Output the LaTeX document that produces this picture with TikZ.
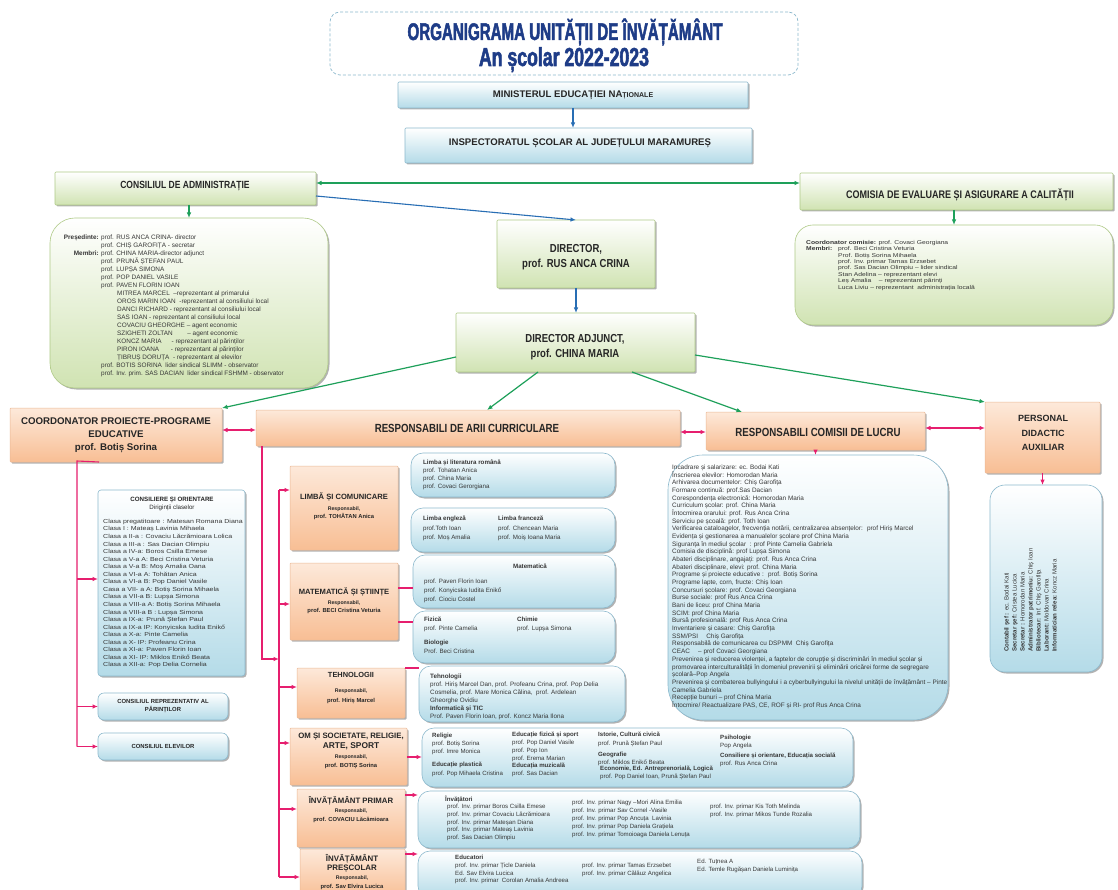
\documentclass[tikz,border=0pt]{standalone}
\usepackage{fontspec}
\setmainfont{Liberation Sans}
\newfontfamily\narrowf[FakeStretch=0.82]{Liberation Sans}
\newfontfamily\widef[FakeStretch=1.2]{Liberation Sans}
\newfontfamily\titlef[FakeStretch=0.63,FakeBold=2]{Liberation Sans}
\newfontfamily\titlefb[FakeStretch=0.68,FakeBold=2]{Liberation Sans}
\usetikzlibrary{arrows.meta,shadows}
\definecolor{bluB}{RGB}{140,185,205}
\definecolor{bluF}{RGB}{180,219,232}
\definecolor{grnB}{RGB}{175,202,135}
\definecolor{grnF}{RGB}{208,227,178}
\definecolor{orgB}{RGB}{235,185,150}
\definecolor{orgF}{RGB}{248,190,148}
\definecolor{orgT}{RGB}{253,233,218}
\definecolor{arG}{RGB}{30,160,90}
\definecolor{arB}{RGB}{40,110,180}
\definecolor{arP}{RGB}{230,30,110}
\definecolor{ttl}{RGB}{30,60,135}
\definecolor{txt}{RGB}{55,55,55}
\newcommand\mkbox[6]{\node[#6, inner sep=0pt, outer sep=0pt, anchor=north west, minimum width={(#4-#2)*1pt}, minimum height={(#5-#3)*1pt}] (#1) at (#2,-#3) {};}
\tikzset{
 shad/.style={drop shadow={shadow xshift=1.5pt,shadow yshift=-1.5pt,opacity=0.3,fill=black}},
 bbox/.style={draw=bluB, line width=0.6pt, top color=white, bottom color=bluF, shad},
 gbox/.style={draw=grnB, line width=0.6pt, top color=white, bottom color=grnF, shad},
 obox/.style={draw=orgB, line width=0.5pt, top color=orgT, bottom color=orgF, shad},
 hd/.style={text=black!85, inner sep=0pt, align=center},
 tx/.style={text=txt, inner sep=0pt, align=left, anchor=north west},
 tip/.style={-{Latex[length=5.5pt,width=4.5pt]}},
 ga/.style={draw=arG, line width=1.2pt, tip},
 gda/.style={draw=arG, line width=1.2pt, {Latex[length=5.5pt,width=4.5pt]}-{Latex[length=5.5pt,width=4.5pt]}},
 ba/.style={draw=arB, line width=1.1pt, tip},
 pa/.style={draw=arP, line width=1.1pt, tip},
 pda/.style={draw=arP, line width=1.2pt, {Latex[length=5.5pt,width=4.5pt]}-{Latex[length=5.5pt,width=4.5pt]}},
 pl/.style={draw=arP, line width=1.1pt},
}
\begin{document}
\begin{tikzpicture}[x=1pt,y=1pt]
\useasboundingbox (0,0) rectangle (1118,-890);
\fill[white] (0,0) rectangle (1118,-890);

% ---------- boxes ----------
\mkbox{Ttl}{330}{12}{798}{75}{draw=bluB, dash pattern=on 3pt off 2pt, line width=0.7pt, rounded corners=10pt}
\mkbox{Min}{398}{82}{748}{108}{bbox, rounded corners=1pt}
\mkbox{Insp}{405}{128}{752}{163}{bbox, rounded corners=1pt}
\mkbox{CA}{55}{172}{316}{205}{gbox, rounded corners=1pt}
\mkbox{caC}{50}{218}{328}{388}{gbox, rounded corners=25pt}
\mkbox{Com}{800}{173}{1113}{210}{gbox, rounded corners=1pt}
\mkbox{comC}{795}{225}{1113}{325}{gbox, rounded corners=18pt}
\mkbox{Dir}{497}{220}{655}{288}{gbox, rounded corners=1pt}
\mkbox{DA}{456}{313}{695}{372}{gbox, rounded corners=1pt}
\mkbox{Coord}{10}{408}{222}{462}{obox, rounded corners=1pt}
\mkbox{ARII}{256}{410}{680}{446}{obox, rounded corners=1pt}
\mkbox{RC}{706}{412}{925}{450}{obox, rounded corners=1pt}
\mkbox{Pers}{985}{402}{1100}{473}{obox, rounded corners=1pt}
\mkbox{CL}{668}{455}{948}{720}{bbox, rounded corners=35pt}
\mkbox{Aux}{990}{485}{1102}{672}{bbox, rounded corners=15pt}
\mkbox{Cons}{98}{490}{245}{676}{bbox, rounded corners=3pt}
\mkbox{Rep}{98}{693}{228}{720}{bbox, rounded corners=6pt}
\mkbox{Elev}{98}{733}{228}{760}{bbox, rounded corners=6pt}
\mkbox{Lim}{290}{466}{398}{550}{obox, rounded corners=1pt}
\mkbox{Mat}{290}{563}{398}{640}{obox, rounded corners=1pt}
\mkbox{Teh}{297}{668}{405}{718}{obox, rounded corners=1pt}
\mkbox{Om}{290}{728}{407}{785}{obox, rounded corners=1pt}
\mkbox{Prim}{297}{789}{405}{847}{obox, rounded corners=1pt}
\mkbox{Pres}{300}{849}{405}{898}{obox, rounded corners=1pt}
\mkbox{limA}{411}{453}{615}{497}{bbox, rounded corners=12pt}
\mkbox{limB}{411}{508}{615}{552}{bbox, rounded corners=12pt}
\mkbox{matB}{413}{555}{615}{608}{bbox, rounded corners=12pt}
\mkbox{fizB}{413}{611}{615}{663}{bbox, rounded corners=12pt}
\mkbox{tehB}{419}{666}{625}{722}{bbox, rounded corners=12pt}
\mkbox{omB}{422}{728}{853}{787}{bbox, rounded corners=12pt}
\mkbox{primB}{418}{791}{860}{848}{bbox, rounded corners=12pt}
\mkbox{presB}{418}{851}{862}{898}{bbox, rounded corners=12pt}

% ---------- title ----------
\node[inner sep=0pt, text=ttl, anchor=base, font=\titlef\bfseries\fontsize{24}{26}\selectfont] (T1) at (565,-40) {ORGANIGRAMA UNITĂȚII DE ÎNVĂȚĂMÂNT};
\node[inner sep=0pt, text=ttl, anchor=base, font=\titlefb\bfseries\fontsize{26}{28}\selectfont] (T2) at (564,-66) {An școlar 2022-2023};

% ---------- header texts ----------
\node[hd, font=\bfseries\fontsize{9.6}{10}\selectfont] (MinT) at (573,-95) {MINISTERUL EDUCAȚIEI NA{\fontsize{7}{7}\selectfont ȚIONALE}};
\node[hd, font=\bfseries\fontsize{9.6}{10}\selectfont] (InspT) at (580,-143) {INSPECTORATUL ȘCOLAR AL JUDEȚULUI MARAMUREȘ};
\node[hd, font=\narrowf\bfseries\fontsize{10.4}{11}\selectfont] (CAT) at (185,-186) {CONSILIUL DE ADMINISTRAȚIE};
\node[hd, font=\narrowf\bfseries\fontsize{11}{12}\selectfont] (ComT) at (960,-195) {COMISIA DE EVALUARE ȘI ASIGURARE A CALITĂȚII};
\node[hd, font=\narrowf\bfseries\fontsize{11.6}{15.5}\selectfont] (DirT) at (576,-257) {DIRECTOR,\\prof. RUS ANCA CRINA};
\node[hd, font=\narrowf\bfseries\fontsize{11.6}{15.5}\selectfont] (DAT) at (575,-347) {DIRECTOR ADJUNCT,\\prof. CHINA MARIA};
\node[hd, font=\bfseries\fontsize{9.7}{13}\selectfont] (CoordT) at (116,-435) {COORDONATOR PROIECTE-PROGRAME\\EDUCATIVE\\prof. Botiș Sorina};
\node[hd, font=\narrowf\bfseries\fontsize{11.8}{12}\selectfont] (ARIIT) at (467,-428) {RESPONSABILI DE ARII CURRICULARE};
\node[hd, font=\narrowf\bfseries\fontsize{11.8}{12}\selectfont] (RCT) at (818,-432) {RESPONSABILI COMISII DE LUCRU};
\node[hd, font=\bfseries\fontsize{9}{14.5}\selectfont] (PersT) at (1043,-433) {PERSONAL\\DIDACTIC\\AUXILIAR};

% ---------- orange sub-box texts ----------
\node[hd, anchor=north, font=\bfseries\fontsize{5.2}{8.5}\selectfont] (LimT) at (344,-493) {{\fontsize{7.6}{8}\selectfont LIMBĂ ȘI COMUNICARE}\\[2pt]Responsabil,\\{\fontsize{5.8}{8}\selectfont prof. TOHĂTAN Anica}};
\node[hd, anchor=north, font=\bfseries\fontsize{5.2}{8.5}\selectfont] (MatT) at (344,-588) {{\fontsize{7.6}{8}\selectfont MATEMATICĂ ȘI ȘTIINȚE}\\[1pt]Responsabil,\\{\fontsize{5.8}{8}\selectfont prof. BECI Cristina Veturia}};
\node[hd, anchor=north, font=\bfseries\fontsize{5.2}{9.5}\selectfont] (TehT) at (351,-672) {{\fontsize{7.4}{8}\selectfont TEHNOLOGII}\\[6pt]Responsabil,\\{\fontsize{5.8}{8}\selectfont prof. Hiriș Marcel}};
\node[hd, anchor=north, font=\bfseries\fontsize{5.2}{10}\selectfont] (OmT) at (351,-733) {{\fontsize{7.8}{8}\selectfont OM ȘI SOCIETATE, RELIGIE,}\\{\fontsize{8.4}{8}\selectfont ARTE, SPORT}\\Responsabil,\\[-1pt]{\fontsize{5.8}{8}\selectfont prof. BOTIȘ Sorina}};
\node[hd, anchor=north, font=\bfseries\fontsize{5.2}{9}\selectfont] (PrimT) at (351,-796) {{\fontsize{7.8}{8}\selectfont ÎNVĂȚĂMÂNT PRIMAR}\\Responsabil,\\{\fontsize{5.8}{8}\selectfont prof. COVACIU Lăcămioara}};
\node[hd, anchor=north, font=\bfseries\fontsize{5.2}{9.3}\selectfont] (PresT) at (352,-854) {{\fontsize{7.9}{8}\selectfont ÎNVĂȚĂMÂNT}\\{\fontsize{7.9}{8}\selectfont PREȘCOLAR}\\Responsabil,\\[-1pt]{\fontsize{5.8}{8}\selectfont prof. Sav Elvira Lucica}};

% ---------- consiliul de administratie content ----------
\node[tx, anchor=north east, align=right, font=\bfseries\fontsize{6.4}{8}\selectfont] (caL) at (99,-235) {Președinte:\\[8pt]Membri:};
\node[tx, font=\fontsize{6.4}{8}\selectfont] (caT) at (101,-235) {prof. RUS ANCA CRINA- director\\
prof. CHIȘ GAROFIȚA - secretar\\
prof. CHINA MARIA-director adjunct\\
prof. PRUNĂ ȘTEFAN PAUL\\
prof. LUPȘA SIMONA\\
prof. POP DANIEL VASILE\\
prof. PAVEN FLORIN IOAN\\
\hspace*{16pt}MITREA MARCEL \ –reprezentant al primarului\\
\hspace*{16pt}OROS MARIN IOAN \ -reprezentant al consiliului local\\
\hspace*{16pt}DANCI RICHARD - reprezentant al consiliului local\\
\hspace*{16pt}SAS IOAN - reprezentant al consiliului local\\
\hspace*{16pt}COVACIU GHEORGHE – agent economic\\
\hspace*{16pt}SZIGHETI ZOLTAN \qquad – agent economic\\
\hspace*{16pt}KONCZ MARIA \quad\ - reprezentant al părinților\\
\hspace*{16pt}PIRON IOANA \quad\ \ - reprezentant al părinților\\
\hspace*{16pt}ȚIBRUȘ DORUȚA \ - reprezentant al elevilor\\
prof. BOTIS SORINA \ lider sindical SLIMM - observator\\
prof. Inv. prim. SAS DACIAN \ lider sindical FSHMM - observator};

% ---------- comisia content ----------
\node[tx, font=\widef\fontsize{5.6}{6.4}\selectfont] (comT1) at (806,-240) {\textbf{Coordonator comisie:} prof. Covaci Georgiana\\\textbf{Membri:}};
\node[tx, font=\widef\fontsize{5.6}{6.4}\selectfont] (comT2) at (838,-246.4) {prof. Beci Cristina Veturia\\Prof. Botiș Sorina Mihaela\\prof. Inv. primar Tamas Erzsebet\\prof. Sas Dacian Olimpiu – lider sindical\\Stan Adelina – reprezentant elevi\\Leș Amalia \quad – reprezentant părinți\\Luca Liviu – reprezentant \ administrația locală};

% ---------- consiliere ----------
\node[hd, anchor=north, font=\fontsize{6.2}{8}\selectfont] (consH) at (172,-497) {\textbf{CONSILIERE ȘI ORIENTARE}\\Diriginții claselor};
\node[tx, font=\widef\fontsize{5.85}{7.55}\selectfont] (consT) at (103,-519) {Clasa pregatitoare : Matesan Romana Diana\\
Clasa I : Mateaș Lavinia Mihaela\\
Clasa a II-a : Covaciu Lăcrămioara Lolica\\
Clasa a III-a : Sas Dacian Olimpiu\\
Clasa a IV-a: Boros Csilla Emese\\
Clasa a V-a A: Beci Cristina Veturia\\
Clasa a V-a B: Moș Amalia Oana\\
Clasa a VI-a A: Tohătan Anica\\
Clasa a VI-a B: Pop Daniel Vasile\\
Casa a VII- a A: Botiș Sorina Mihaela\\
Clasa a VII-a B: Lupșa Simona\\
Clasa a VIII-a A: Botiș Sorina Mihaela\\
Clasa a VIII-a B : Lupșa Simona\\
Clasa a IX-a: Prună Ștefan Paul\\
Clasa a IX-a IP: Konyicska Iudita Enikő\\
Clasa a X-a: Pinte Camelia\\
Clasa a X- IP: Profeanu Crina\\
Clasa a XI-a: Paven Florin Ioan\\
Clasa a XI- IP: Miklos Enikő Beata\\
Clasa a XII-a: Pop Delia Cornelia};
\node[hd, font=\bfseries\fontsize{5.9}{8}\selectfont] (RepT) at (163,-706) {CONSILIUL REPREZENTATIV AL\\PĂRINȚILOR};
\node[hd, font=\bfseries\fontsize{5.9}{8}\selectfont] (ElevT) at (163,-746) {CONSILIUL ELEVILOR};

% ---------- comisii de lucru list ----------
\node[tx, font=\fontsize{6.4}{7.68}\selectfont] (clT) at (672,-464.5) {Incadrare și salarizare: ec. Bodai Kati\\
Înscrierea elevilor: Homorodan Maria\\
Arhivarea documentelor: Chiș Garofița\\
Formare continuă: prof.Sas Dacian\\
Corespondența electronică: Homorodan Maria\\
Curriculum școlar: prof. China Maria\\
Întocmirea orarului: prof. Rus Anca Crina\\
Serviciu pe școală: prof. Toth Ioan\\
Verificarea cataloagelor, frecvenția notării, centralizarea absențelor: \ prof Hiriș Marcel\\
Evidența și gestionarea a manualelor școlare prof China Maria\\
Siguranța în mediul școlar \ : prof Pinte Camelia Gabriela\\
Comisia de disciplină: prof Lupșa Simona\\
Abateri disciplinare, angajați: prof. Rus Anca Crina\\
Abateri disciplinare, elevi: prof. China Maria\\
Programe și proiecte educative : \ prof. Botiș Sorina\\
Programe lapte, corn, fructe: Chiș Ioan\\
Concursuri școlare: prof. Covaci Georgiana\\
Burse sociale: prof Rus Anca Crina\\
Bani de liceu: prof China Maria\\
SCIM: prof China Maria\\
Bursă profesională: prof Rus Anca Crina\\
Inventariere și casare: Chiș Garofița\\
SSM/PSI \quad Chiș Garofița\\
Responsabilă de comunicarea cu DSPMM \ Chiș Garofița\\
CEAC \quad – prof Covaci Georgiana\\
Prevenirea și reducerea violenței, a faptelor de corupție și discriminări în mediul școlar și\\
promovarea interculturalității în domeniul prevenirii și eliminării oricărei forme de segregare\\
școlară–Pop Angela\\
Prevenirea și combaterea bullyingului i a cyberbullyingului la nivelul unității de învățământ – Pinte\\
Camelia Gabriela\\
Recepție bunuri – prof China Maria\\
Întocmire/ Reactualizare PAS, CE, ROF și RI- prof Rus Anca Crina};

% ---------- personal auxiliar ----------
\node[tx, rotate=90, font=\fontsize{6.1}{8}\selectfont] (auxT) at (1004,-652) {\textbf{Contabil șef :} ec. Bodai Kati\\\textbf{Secretar șef:} Cristea Lucica\\\textbf{Secretar :} Homorodan Maria\\\textbf{Administrator patrimoniu:} Chiș Ioan\\\textbf{Bibliotecar:} Inf. Chiș Garofița\\\textbf{Laborant:} Moldovan Crina\\\textbf{Informatician relea:} Koncz Maria};

% ---------- curricular contents ----------
\node[tx, font=\fontsize{6.2}{8}\selectfont] (limAT) at (423,-460) {\textbf{Limba și literatura română}\\prof. Tohatan Anica\\prof. China Maria\\prof. Covaci Gerorgiana};
\node[tx, font=\fontsize{6.2}{9.5}\selectfont] (limBT1) at (423,-516) {\textbf{Limba engleză}\\prof.Toth Ioan\\prof. Moș Amalia};
\node[tx, font=\fontsize{6.2}{9.5}\selectfont] (limBT2) at (498,-516) {\textbf{Limba franceză}\\prof. Chencean Maria\\prof. Moiș Ioana Maria};
\node[hd, text=txt, font=\bfseries\fontsize{6.2}{8}\selectfont] (matH) at (530,-566) {Matematică};
\node[tx, font=\fontsize{6.2}{9}\selectfont] (matT) at (424,-579) {prof. Paven Florin Ioan\\prof. Konyicska Iudita Enikő\\prof. Ciociu Costel};
\node[tx, font=\fontsize{6.2}{8.5}\selectfont] (fizT1) at (424,-617) {\textbf{Fizică}\\prof. Pinte Camelia};
\node[tx, font=\fontsize{6.2}{8.5}\selectfont] (fizT2) at (517,-617) {\textbf{Chimie}\\prof. Lupșa Simona};
\node[tx, font=\fontsize{6.2}{9}\selectfont] (bioT) at (424,-640) {\textbf{Biologie}\\Prof. Beci Cristina};
\node[tx, font=\fontsize{6.3}{8}\selectfont] (tehT) at (430,-674) {\textbf{Tehnologii}\\prof. Hiriș Marcel Dan, prof. Profeanu Crina, prof. Pop Delia\\Cosmelia, prof. Mare Monica Călina, \ prof. Ardelean\\Gheorghe Ovidiu\\\textbf{Informatică și TIC}\\Prof. Paven Florin Ioan, prof. Koncz Maria Ilona};

\node[tx, font=\fontsize{6.1}{8}\selectfont] (omT1) at (432,-733) {\textbf{Religie}\\prof. Botiș Sorina\\prof. Imre Monica};
\node[tx, font=\fontsize{6.1}{8.5}\selectfont] (omT2) at (432,-762) {\textbf{Educație plastică}\\prof. Pop Mihaela Cristina};
\node[tx, font=\fontsize{6.1}{7.8}\selectfont] (omT3) at (512,-732) {\textbf{Educație fizică și sport}\\prof. Pop Daniel Vasile\\prof. Pop Ion\\prof. Erema Marian\\\textbf{Educația muzicală}\\prof. Sas Dacian};
\node[tx, font=\fontsize{6.1}{9}\selectfont] (omT4) at (598,-732) {\textbf{Istorie, Cultură civică}\\prof. Prună Ștefan Paul};
\node[tx, font=\fontsize{6.1}{7.5}\selectfont] (omT5) at (598,-752) {\textbf{Geografie}\\prof. Miklos Enikő Beata};
\node[tx, font=\fontsize{6.1}{8}\selectfont] (omT6) at (600,-766) {\textbf{Economie, Ed. Antreprenorială, Logică}\\prof. Pop Daniel Ioan, Prună Ștefan Paul};
\node[tx, font=\fontsize{6.1}{7.5}\selectfont] (omT7) at (720,-735) {\textbf{Psihologie}\\Pop Angela};
\node[tx, font=\fontsize{6.1}{8}\selectfont] (omT8) at (720,-753) {\textbf{Consiliere și orientare, Educația socială}\\prof. Rus Anca Crina};

\node[tx, font=\bfseries\fontsize{6.1}{8}\selectfont] (primH) at (445,-796) {Învățători};
\node[tx, font=\fontsize{6.1}{7.75}\selectfont] (primT1) at (447,-804) {prof. Inv. primar Boros Csilla Emese\\prof. Inv. primar Covaciu Lăcrămioara\\prof. Inv. primar Mateșan Diana\\prof. Inv. primar Mateaș Lavinia\\prof. Sas Dacian Olimpiu};
\node[tx, font=\fontsize{6.1}{8}\selectfont] (primT2) at (572,-800) {prof. Inv. primar Nagy –Mori Alina Emilia\\prof. Inv. primar Sav Cornel -Vasile\\prof. Inv. primar Pop Ancuța \ Lavinia\\prof. Inv. primar Pop Daniela Grațiela\\prof. Inv. primar Tomoioaga Daniela Lenuța};
\node[tx, font=\fontsize{6.1}{8}\selectfont] (primT3) at (710,-804) {prof. Inv. primar Kis Toth Melinda\\prof. Inv. primar Mikos Tunde Rozalia};

\node[tx, font=\bfseries\fontsize{6.1}{8}\selectfont] (presH) at (455,-855) {Educatori};
\node[tx, font=\fontsize{6.1}{7.5}\selectfont] (presT1) at (455,-863) {prof. Inv. primar Țicle Daniela\\Ed. Sav Elvira Lucica\\prof. Inv. primar \ Corolan Amalia Andreea};
\node[tx, font=\fontsize{6.1}{7.5}\selectfont] (presT2) at (582,-863) {prof. Inv. primar Tamas Erzsebet\\prof. Inv. primar Călăuz Angelica};
\node[tx, font=\fontsize{6.1}{8}\selectfont] (presT3) at (697,-859) {Ed. Tuțnea A\\Ed. Temle Rugășan Daniela Luminița};

% ---------- connectors ----------
\draw[ba] (Min.south) -- (Min.south |- Insp.north);
\draw[ga] (CA.south -| caC.north) -- (caC.north);
\draw[gda] (CA.east |- 0,-183) -- (Com.west |- 0,-183);
\draw[ba] (CA.east |- 0,-196) -- (Dir.north);
\draw[ga] (Com.south -| comC.north) -- (comC.north);
\draw[ba] (Dir.south) -- (Dir.south |- DA.north);
\draw[ga] (DA.west |- 0,-357) -- (Coord.north east);
\draw[ga] (DA.south -| 538,0) -- (ARII.north -| 487,0);
\draw[ga] (DA.south -| 632,0) -- (RC.north -| 742,0);
\draw[ga] (DA.east |- 0,-355) -- (Pers.north west);
\draw[pda] (Coord.east |- 0,-430) -- (ARII.west |- 0,-430);
\draw[pda] (ARII.east |- 0,-432) -- (RC.west |- 0,-432);
\draw[pda] (RC.east |- 0,-428) -- (Pers.west |- 0,-428);
\draw[pa] (RC.south) -- (RC.south |- CL.north);
\draw[pa] (Pers.south) -- (Pers.south |- Aux.north);

\coordinate (cB) at (77,-461);
\draw[pl] (Coord.south -| 99,0) -- (cB) -- (cB |- Elev.west);
\draw[pa] (cB |- 0,-579) -- (Cons.west |- 0,-579);
\draw[pa] (cB |- Rep.west) -- (Rep.west);
\draw[pa] (cB |- Elev.west) -- (Elev.west);

\coordinate (v2) at (279,-490);
\draw[pl] (v2) -- (v2 |- 0,-877);
\draw[pa] (ARII.south -| 262,0) |- (v2 |- 0,-659);
\draw[pa] (v2) -- (Lim.west |- v2);
\draw[pa] (v2 |- 0,-604) -- (Mat.west |- 0,-604);
\draw[pa] (v2 |- 0,-687) -- (Teh.west |- 0,-687);
\draw[pa] (v2 |- 0,-743) -- (Om.west |- 0,-743);
\draw[pa] (v2 |- 0,-809) -- (Prim.west |- 0,-809);
\draw[pa] (v2 |- 0,-877) -- (Pres.west |- 0,-877);

\draw[pl] (Mat.east |- 0,-588) -- (matB.west |- 0,-588);
\draw[pl] (Mat.east |- 0,-622) -- (fizB.west |- 0,-622);
\draw[pl] (Teh.north east) -- (tehB.west |- Teh.north east);
\draw[pa] (Om.east |- 0,-757) -- (omB.west |- 0,-757);
\draw[pa] (Prim.east |- 0,-795) -- (primB.west |- 0,-795);
\draw[pa] (Pres.east |- 0,-854) -- (presB.west |- 0,-854);
\end{tikzpicture}
\end{document}
